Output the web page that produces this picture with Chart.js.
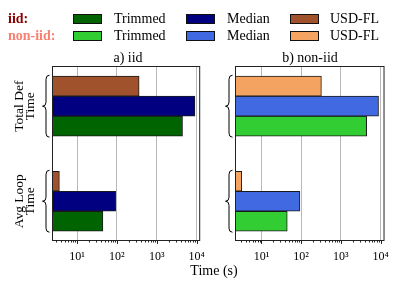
<!DOCTYPE html>
<html>
<head>
<meta charset="utf-8">
<script src="https://cdn.jsdelivr.net/npm/chart.js@4.4.1/dist/chart.umd.min.js"></script>
<style>
  body { margin: 0; background: #fff; }
  #wrap { position: relative; width: 399px; height: 289px; font-family: "Liberation Serif", "Times New Roman", serif; color: #000; }
  .lbl { position: absolute; font-size: 14px; line-height: 16px; white-space: nowrap; }
  .patch { position: absolute; width: 29px; height: 10px; box-sizing: border-box; border: 1px solid #111; }
  canvas { position: absolute; top: 0; }
</style>
</head>
<body>
<div id="wrap">
  <canvas id="chartIid" width="215" height="289" style="left:0"></canvas>
  <canvas id="chartNonIid" width="184" height="289" style="left:215px"></canvas>

  <!-- legend -->
  <div class="lbl" style="left:8px; top:11px; font-weight:bold; color:#8b0000;">iid:</div>
  <div class="lbl" style="left:8px; top:28px; font-weight:bold; color:#fa8072;">non-iid:</div>
  <div id="legend"></div>

  <!-- panel titles + x axis title -->
  <div class="lbl" style="left:78px; width:100px; text-align:center; top:50px;">a) iid</div>
  <div class="lbl" style="left:260px; width:100px; text-align:center; top:50px;">b) non-iid</div>
  <div class="lbl" style="left:164px; width:100px; text-align:center; top:263px;">Time (s)</div>
</div>

<script>
// ---- data ----
const categories = [['Total Def', 'Time'], ['Avg Loop', 'Time']];
const methods = ['Trimmed', 'Median', 'USD-FL'];

const iidTrimmed = [4430, 44.5];
const iidMedian = [9080, 93];
const iidUsdfl = [361, 3.6];

const nonIidTrimmed = [4470, 44.7];
const nonIidMedian = [8900, 93];
const nonIidUsdfl = [324, 3.2];

const decadeTicks = [10, 100, 1000, 10000];
const decadeLabels = ['10\u00b9', '10\u00b2', '10\u00b3', '10\u2074'];

const iidColors = ['#006400', '#000080', '#a0522d'];
const nonIidColors = ['#32cd32', '#4169e1', '#f4a460'];

// ---- html legend ----
const legendCols = [{patch: 73, text: 114}, {patch: 186, text: 227}, {patch: 290, text: 330}];
const legendRows = [{colors: iidColors, patchTop: 14, textTop: 11}, {colors: nonIidColors, patchTop: 31, textTop: 28}];
const legendEl = document.getElementById('legend');
legendRows.forEach(row => {
    legendCols.forEach((col, k) => {
        legendEl.insertAdjacentHTML('beforeend',
            `<div class="patch" style="left:${col.patch}px; top:${row.patchTop}px; background:${row.colors[k]};"></div>` +
            `<div class="lbl" style="left:${col.text}px; top:${row.textTop}px;">${methods[k]}</div>`);
    });
});

// ---- frame, tick marks, braces, group labels ----
function drawBrace(ctx, xl, xm, xr, top, mid, bot) {
    const r = 4;
    ctx.beginPath();
    ctx.moveTo(xr, top);
    ctx.quadraticCurveTo(xm, top, xm, top + r);
    ctx.lineTo(xm, mid - r);
    ctx.quadraticCurveTo(xm, mid, xl, mid);
    ctx.quadraticCurveTo(xm, mid, xm, mid + r);
    ctx.lineTo(xm, bot - r);
    ctx.quadraticCurveTo(xm, bot, xr, bot);
    ctx.stroke();
}

const framePlugin = {
    id: 'frame',
    afterDatasetsDraw(chart, args, opts) {
        const {ctx, chartArea: a, scales} = chart;
        const x = scales.x;
        const y = scales.y;
        ctx.save();
        ctx.strokeStyle = '#222';
        ctx.lineWidth = 1;

        // tick marks (long at decades, short otherwise)
        x.ticks.forEach(t => {
            const px = Math.round(x.getPixelForValue(t.value)) + 0.5;
            const len = decadeTicks.includes(t.value) ? 4 : 2.5;
            ctx.beginPath();
            ctx.moveTo(px, a.bottom);
            ctx.lineTo(px, a.bottom + len);
            ctx.stroke();
        });

        // box around plot
        ctx.strokeRect(a.left + 0.5, a.top + 0.5, a.right - a.left - 1, a.bottom - a.top);

        // braces
        ctx.strokeStyle = '#000';
        categories.forEach((cat, i) => {
            const cy = y.getPixelForValue(i);
            const xr = a.left - 2.5;
            drawBrace(ctx, xr - 7, xr - 3.5, xr, cy - 31, cy, cy + 31);

            if (opts.labels) {
                ctx.save();
                ctx.fillStyle = '#000';
                ctx.font = '13.5px "Liberation Serif", serif';
                ctx.textAlign = 'center';
                ctx.textBaseline = 'middle';
                cat.forEach((line, j) => {
                    ctx.save();
                    ctx.translate(a.left - 33 + j * 11.5, cy);
                    ctx.rotate(-Math.PI / 2);
                    ctx.fillText(line, 0, 0);
                    ctx.restore();
                });
                ctx.restore();
            }
        });
        ctx.restore();
    }
};

function makeChart(id, series, colors, xMin, xMax, pad, withLabels) {
    // top-to-bottom bar order in each group: USD-FL, Median, Trimmed
    const order = [2, 1, 0];
    return new Chart(document.getElementById(id), {
        type: 'bar',
        data: {
            datasets: order.map(k => ({
                label: methods[k],
                data: series[k].map((v, i) => ({x: v, y: i})),
                backgroundColor: colors[k],
                borderColor: '#1a1a1a',
                borderWidth: 1,
                borderSkipped: false,
                barThickness: 20
            }))
        },
        options: {
            indexAxis: 'y',
            responsive: false,
            animation: false,
            layout: {padding: pad},
            plugins: {
                legend: {display: false},
                tooltip: {enabled: false},
                frame: {labels: withLabels}
            },
            scales: {
                x: {
                    type: 'logarithmic',
                    min: xMin,
                    max: xMax,
                    border: {display: false},
                    grid: {
                        drawTicks: false,
                        lineWidth: 1,
                        color: c => (c.tick && decadeTicks.includes(c.tick.value)) ? '#b8b8b8' : 'rgba(0,0,0,0)'
                    },
                    ticks: {
                        autoSkip: false,
                        maxRotation: 0,
                        padding: 10,
                        color: '#000',
                        font: {family: '"Liberation Serif", serif', size: 12},
                        callback: v => {
                            const i = decadeTicks.indexOf(v);
                            return i >= 0 ? decadeLabels[i] : '';
                        }
                    },
                    afterBuildTicks: scale => {
                        const ticks = [];
                        for (let e = 0; e <= 4; e++) {
                            for (let m = 1; m <= 9; m++) {
                                const v = m * Math.pow(10, e);
                                if (v >= scale.min && v <= scale.max) ticks.push({value: v});
                            }
                        }
                        scale.ticks = ticks;
                    },
                    afterFit: scale => { scale.height = 49; }
                },
                y: {
                    type: 'linear',
                    reverse: true,
                    offset: false,
                    min: -0.423,
                    max: 1.408,
                    display: false
                }
            }
        },
        plugins: [framePlugin]
    });
}

makeChart('chartIid', [iidTrimmed, iidMedian, iidUsdfl], iidColors,
    2.35, 12300, {left: 52, right: 12, top: 66, bottom: 0}, true);
makeChart('chartNonIid', [nonIidTrimmed, nonIidMedian, nonIidUsdfl], nonIidColors,
    2.16, 12600, {left: 20, right: 14, top: 66, bottom: 0}, false);
</script>
</body>
</html>
